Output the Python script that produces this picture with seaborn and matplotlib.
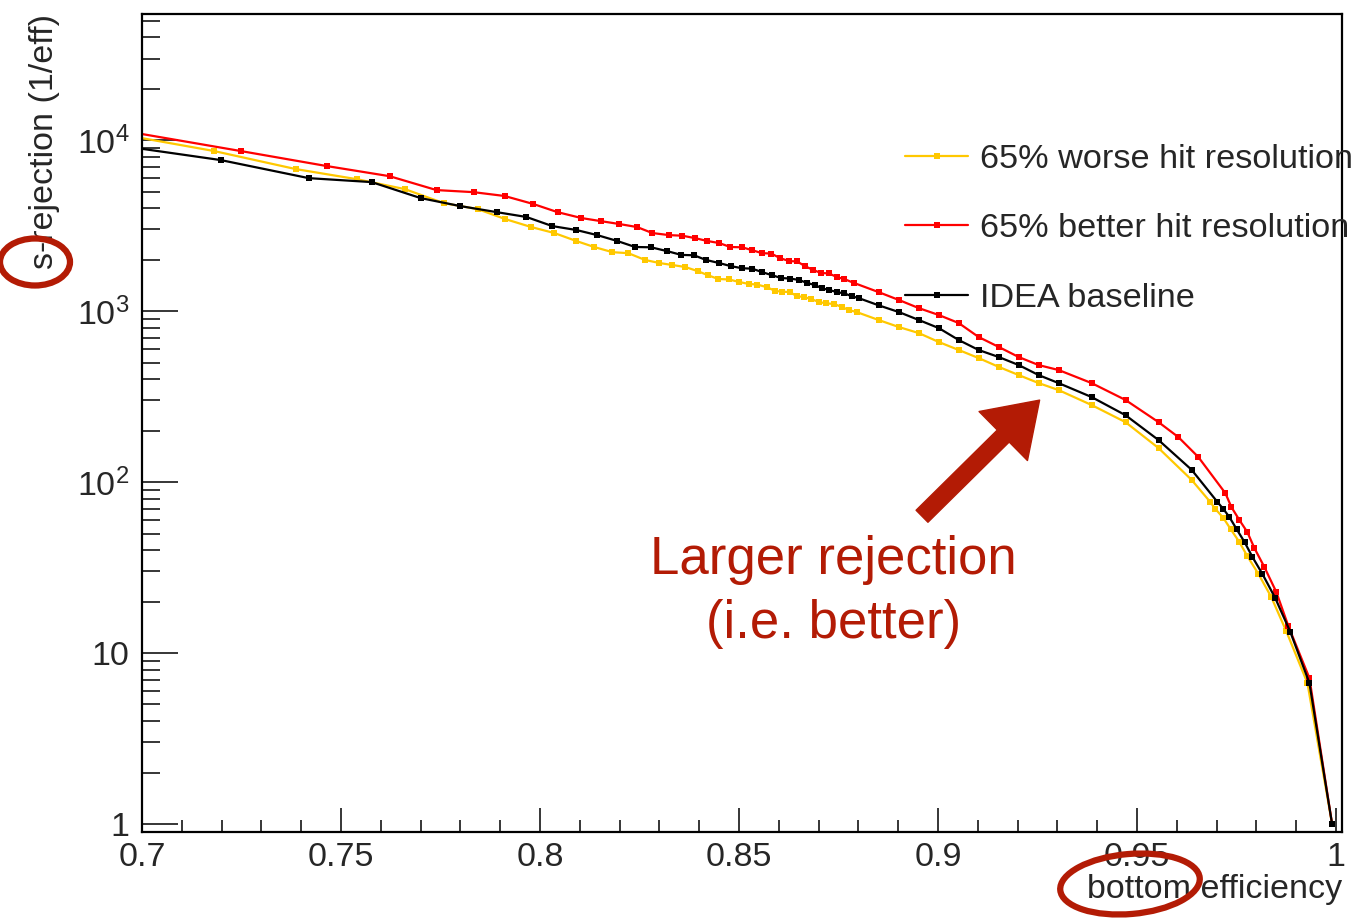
import numpy as np
import pandas as pd
import matplotlib
matplotlib.use("Agg")
import matplotlib.pyplot as plt
import matplotlib.ticker as mticker
from matplotlib.patches import Ellipse
from matplotlib.lines import Line2D
import seaborn as sns

# ---------------- data ----------------
eff_worse = [0.690, 0.7181, 0.7386, 0.7539, 0.7660, 0.7758, 0.7843, 0.7913, 0.7978, 0.8036,
             0.8091, 0.8136, 0.8182, 0.8222, 0.8264, 0.8300, 0.8332, 0.8365, 0.8397, 0.8422,
             0.8448, 0.8475, 0.8500, 0.8525, 0.8545, 0.8570, 0.8591, 0.8608, 0.8628, 0.8646,
             0.8663, 0.8681, 0.8701, 0.8718, 0.8739, 0.8759, 0.8776, 0.8796, 0.8851, 0.8902,
             0.8952, 0.9002, 0.9052, 0.9102, 0.9153, 0.9203, 0.9253, 0.9303, 0.9386, 0.9471,
             0.9554, 0.9637, 0.9684, 0.9697, 0.9717, 0.9735, 0.9757, 0.9777, 0.9805, 0.9837,
             0.9875, 0.9928, 0.9990]
rej_worse = [11300, 8630, 6770, 5910, 5170, 4280, 3950, 3450, 3100, 2860,
             2570, 2370, 2210, 2180, 1990, 1910, 1860, 1810, 1710, 1620,
             1540, 1530, 1480, 1440, 1430, 1380, 1310, 1300, 1290, 1220,
             1210, 1175, 1130, 1110, 1100, 1055, 1014, 986, 886, 806,
             743, 659, 592, 531, 471, 422, 379, 345, 282, 224,
             158, 103, 76.4, 69.5, 61.6, 53.1, 44.6, 36.9, 29.0, 21.3,
             13.4, 6.68, 1.0]

eff_better = [0.690, 0.7248, 0.7464, 0.7622, 0.7740, 0.7833, 0.7911, 0.7983, 0.8044, 0.8104,
              0.8152, 0.8199, 0.8244, 0.8282, 0.8325, 0.8357, 0.8390, 0.8420, 0.8450, 0.8478,
              0.8508, 0.8533, 0.8558, 0.8581, 0.8603, 0.8626, 0.8646, 0.8666, 0.8686, 0.8706,
              0.8726, 0.8746, 0.8764, 0.8789, 0.8851, 0.8902, 0.8952, 0.9002, 0.9052, 0.9102,
              0.9153, 0.9203, 0.9253, 0.9303, 0.9386, 0.9471, 0.9554, 0.9604, 0.9654, 0.9722,
              0.9737, 0.9757, 0.9777, 0.9795, 0.9820, 0.9850, 0.9880, 0.9933, 0.9990]
rej_better = [11900, 8630, 7050, 6150, 5100, 4960, 4710, 4230, 3790, 3500,
              3360, 3230, 3100, 2860, 2780, 2760, 2670, 2570, 2500, 2370,
              2360, 2270, 2180, 2170, 2040, 1960, 1950, 1830, 1740, 1670,
              1660, 1580, 1540, 1460, 1290, 1160, 1040, 948, 851, 705,
              616, 538, 483, 452, 379, 302, 224, 183, 140, 86,
              71.4, 60, 51, 41, 31.8, 22.7, 14.4, 7.14, 1.0]

eff_base = [0.690, 0.7198, 0.7419, 0.7577, 0.7700, 0.7800, 0.7891, 0.7966, 0.8031, 0.8091,
            0.8144, 0.8194, 0.8239, 0.8279, 0.8320, 0.8355, 0.8387, 0.8417, 0.8450, 0.8480,
            0.8508, 0.8533, 0.8558, 0.8583, 0.8606, 0.8628, 0.8651, 0.8671, 0.8691, 0.8708,
            0.8726, 0.8746, 0.8764, 0.8784, 0.8801, 0.8851, 0.8902, 0.8952, 0.9002, 0.9052,
            0.9102, 0.9153, 0.9203, 0.9253, 0.9303, 0.9386, 0.9471, 0.9554, 0.9637, 0.9702,
            0.9717, 0.9732, 0.9750, 0.9770, 0.9790, 0.9815, 0.9847, 0.9885, 0.9933, 0.9990]
rej_base = [9600, 7640, 5990, 5680, 4580, 4110, 3790, 3550, 3140, 2980,
            2780, 2570, 2370, 2360, 2240, 2130, 2120, 1990, 1910, 1830,
            1780, 1770, 1690, 1620, 1560, 1550, 1520, 1460, 1420, 1360,
            1330, 1290, 1270, 1220, 1190, 1080, 986, 886, 795, 677,
            592, 538, 483, 422, 379, 314, 246, 176, 118, 76.4,
            69.5, 62.4, 53.1, 44.6, 36.4, 29.0, 21.0, 13.3, 6.68, 1.0]

labels = ["65% worse hit resolution", "65% better hit resolution", "IDEA baseline"]
colors = ["#FFC800", "#FF0000", "#000000"]

x_ticks = [0.7, 0.75, 0.8, 0.85, 0.9, 0.95, 1.0]
x_tick_labels = ["0.7", "0.75", "0.8", "0.85", "0.9", "0.95", "1"]
y_ticks = [1, 10, 100, 1000, 10000]
y_tick_labels = ["1", "10", r"$10^{2}$", r"$10^{3}$", r"$10^{4}$"]

x_label = "bottom efficiency"
y_label = "s-rejection (1/eff)"
note_text = "Larger rejection\n(i.e. better)"

# ---------------- style ----------------
sns.set_style("ticks")
plt.rcParams["font.family"] = ["Liberation Sans", "DejaVu Sans"]
plt.rcParams["mathtext.fontset"] = "custom"
plt.rcParams["mathtext.rm"] = "Liberation Sans"
plt.rcParams["mathtext.it"] = "Liberation Sans:italic"
plt.rcParams["mathtext.bf"] = "Liberation Sans:bold"

fig = plt.figure(figsize=(13.56, 9.18), dpi=100)
fig.patch.set_facecolor("white")
ax = fig.add_axes([0.1047, 0.0937, 0.885, 0.891])
ax.set_facecolor("white")

series = [(eff_worse, rej_worse), (eff_better, rej_better), (eff_base, rej_base)]
for (ex, ry), lab, col in zip(series, labels, colors):
    df = pd.DataFrame({"eff": ex, "rej": ry})
    sns.lineplot(data=df, x="eff", y="rej", ax=ax, color=col, linewidth=1.6,
                 marker="s", markersize=5, markeredgewidth=0, estimator=None,
                 sort=False, legend=False)

ax.set_yscale("log")
ax.set_xlim(0.7, 1.0015)
ax.set_ylim(0.898, 54600)

ax.xaxis.set_major_locator(mticker.FixedLocator(x_ticks))
ax.xaxis.set_major_formatter(mticker.FixedFormatter(x_tick_labels))
ax.xaxis.set_minor_locator(mticker.MultipleLocator(0.01))
ax.yaxis.set_major_locator(mticker.FixedLocator(y_ticks))
ax.yaxis.set_major_formatter(mticker.FixedFormatter(y_tick_labels))
ax.yaxis.set_minor_locator(mticker.LogLocator(base=10, subs=np.arange(2, 10)))
ax.yaxis.set_minor_formatter(mticker.NullFormatter())

ax.tick_params(axis="x", which="major", direction="in", length=17, width=1.3,
               labelsize=24.5, pad=7, top=False)
ax.tick_params(axis="x", which="minor", direction="in", length=8.5, width=1.3, top=False)
ax.tick_params(axis="y", which="major", direction="in", length=26, width=1.3,
               labelsize=24.5, pad=9, right=False)
ax.tick_params(axis="y", which="minor", direction="in", length=13, width=1.3, right=False)
for sp in ax.spines.values():
    sp.set_linewidth(1.6)
    sp.set_color("black")

ax.set_xlabel(x_label, fontsize=24.5, loc="right", labelpad=1)
ax.set_ylabel(y_label, fontsize=24.5, loc="top", labelpad=12)

handles = [Line2D([0], [0], color=c, lw=1.6, marker="s", markersize=5,
                  markeredgewidth=0) for c in colors]
leg = fig.legend(handles, labels, loc="upper left",
                 bbox_to_anchor=(905 / 1356, 1 - 144 / 918),
                 frameon=False, fontsize=24.7, handlelength=1.85, handletextpad=0.35,
                 labelspacing=1.12, borderpad=0, borderaxespad=0, markerscale=1.0)

annot_col = "#B31B05"
ax.text(0.576, 0.2934, note_text, transform=ax.transAxes, ha="center", va="center",
        fontsize=38, color=annot_col, linespacing=1.34, multialignment="center")
ax.annotate("", xy=(0.748, 0.528), xytext=(0.65, 0.386), xycoords="axes fraction",
            textcoords="axes fraction",
            arrowprops=dict(arrowstyle="simple,head_length=1.15,head_width=1.55,tail_width=0.38",
                            color=annot_col, mutation_scale=32, shrinkA=0, shrinkB=0))

fig.add_artist(Ellipse((0.35, (918 - 262) / 100), 0.70, 0.47, angle=0,
                       transform=fig.dpi_scale_trans, fill=False, ec=annot_col, lw=4.5))
fig.add_artist(Ellipse((11.30, (918 - 884) / 100), 1.40, 0.60, angle=5,
                       transform=fig.dpi_scale_trans, fill=False, ec=annot_col, lw=4.5))

fig.savefig("out.png", dpi=100, facecolor="white")
